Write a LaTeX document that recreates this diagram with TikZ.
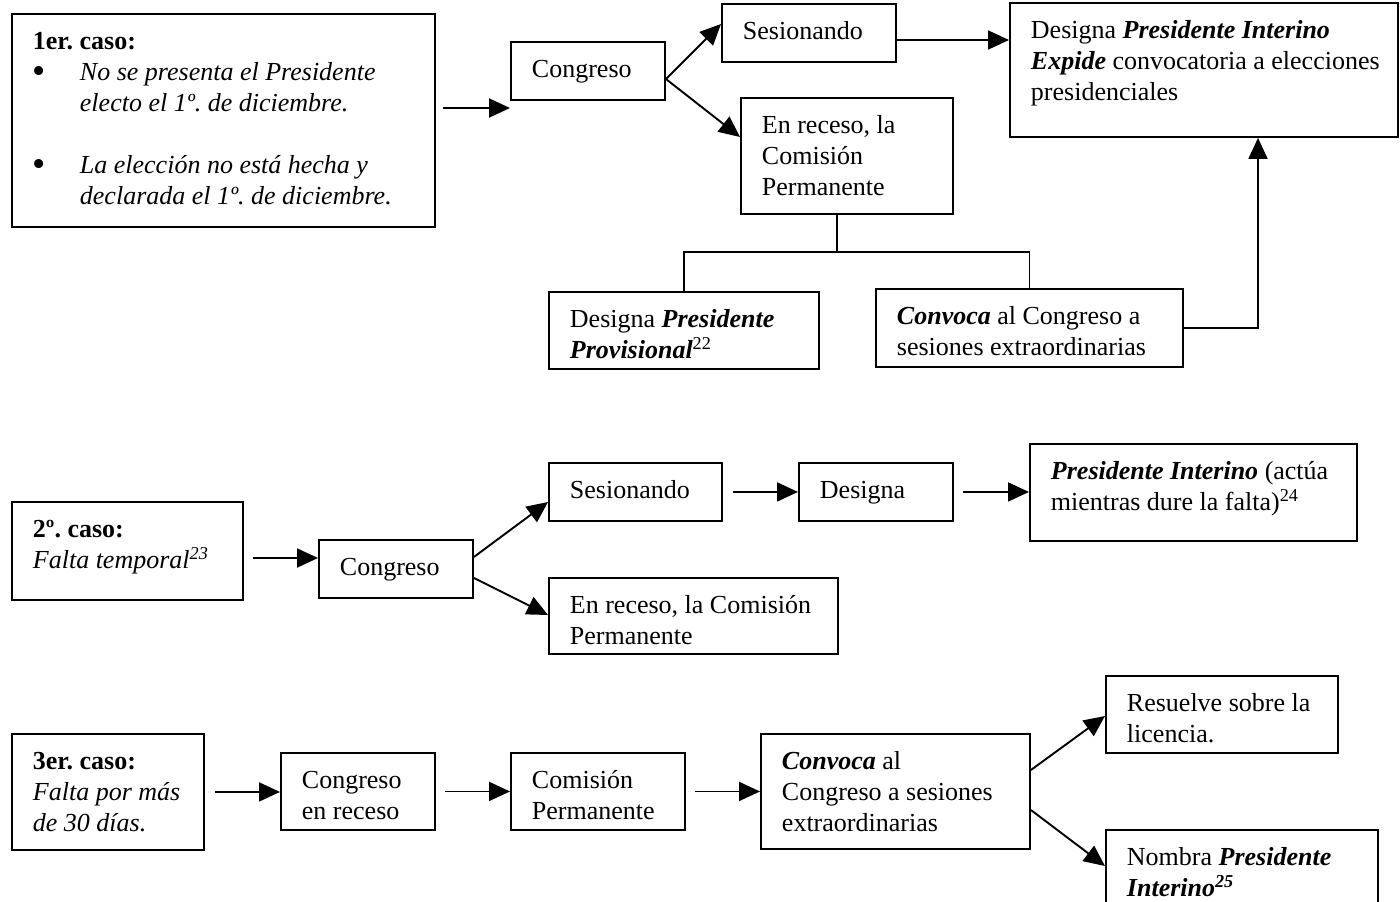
\documentclass[tikz,border=0pt]{standalone}
\usepackage{fontspec}
\setmainfont{Liberation Serif}
\usetikzlibrary{arrows.meta,calc}
\newcommand{\boxtext}[3]{\begin{minipage}[t][#2][t]{#1}\leftskip=21pt\relax\rule{0pt}{36pt}#3\end{minipage}}
\newcommand{\bi}[1]{\textbf{\textit{#1}}}
\newcommand{\bul}{\makebox[47pt][l]{\raisebox{-2.5pt}{\scalebox{1.45}{\textbullet}}}}
\begin{document}
\begin{tikzpicture}[x=1pt,y=-1pt,
  bx/.style={draw, line width=1.9pt, inner sep=0pt, anchor=north west},
  arr/.style={line width=1.9pt, -{Triangle[length=21pt,width=19pt]}},
  ln/.style={line width=1.9pt},
  every node/.style={font=\fontsize{26}{31}\selectfont\frenchspacing}]
\useasboundingbox (0,0) rectangle (1400,902);
\fill[white] (0,0) rectangle (1400,902);
\clip (0,0) rectangle (1400,902);

% ---------- case 1 ----------
\node[bx] (c1) at (11,13) {\boxtext{423pt}{213pt}{\textbf{1er. caso:}\\
\bul\textit{No se presenta el Presidente}\\
\hspace*{47pt}\textit{electo el 1º. de diciembre.}\\
\mbox{}\\
\bul\textit{La elección no está hecha y}\\
\hspace*{47pt}\textit{declarada el 1º. de diciembre.}}};
\node[bx] (cong1) at (510,41) {\boxtext{154pt}{58pt}{Congreso}};
\node[bx] (ses1) at (721,3) {\boxtext{174pt}{58pt}{Sesionando}};
\node[bx] (rec1) at (740,97) {\boxtext{212pt}{116pt}{En receso, la\\Comisión\\Permanente}};
\node[bx] (dpi) at (1009,2) {\boxtext{388pt}{134pt}{Designa \bi{Presidente Interino}\\\bi{Expide} convocatoria a elecciones\\presidenciales}};
\node[bx] (dprov) at (548,291) {\boxtext{270pt}{77pt}{Designa \bi{Presidente}\\\bi{Provisional}\textsuperscript{22}}};
\node[bx] (conv1) at (875,288) {\boxtext{307pt}{78pt}{\bi{Convoca} al Congreso a\\sesiones extraordinarias}};

\coordinate (a1s) at ($(c1.north east)+(7,95)$);
\draw[arr] (a1s) -- (a1s -| cong1.west);
\coordinate (k1) at ($(cong1.north east)+(0,38)$);
\draw[arr] (k1) -- ($(ses1.north west)+(0,21)$);
\draw[arr] (k1) -- ($(rec1.north west)+(0,40)$);
\coordinate (s1o) at ($(ses1.north east)+(0,37)$);
\draw[arr] (s1o) -- (s1o -| dpi.west);
\coordinate (j1) at ($(rec1.south)+(-10,37)$);
\draw[ln] (j1 |- rec1.south) -- (j1);
\draw[ln] (dprov.north) |- (j1) -| (conv1.north);
\draw[arr] (conv1.east) -| ($(dpi.south west)+(249,0)$);

% ---------- case 2 ----------
\node[bx] (c2) at (11,501) {\boxtext{231pt}{98pt}{\textbf{2º. caso:}\\\textit{Falta temporal\textsuperscript{23}}}};
\node[bx] (cong2) at (318,539) {\boxtext{154pt}{58pt}{Congreso}};
\node[bx] (ses2) at (548,462) {\boxtext{173pt}{58pt}{Sesionando}};
\node[bx] (des2) at (798,462) {\boxtext{154pt}{58pt}{Designa}};
\node[bx] (pi2) at (1029,443) {\boxtext{327pt}{97pt}{\bi{Presidente Interino} (actúa\\mientras dure la falta)\textsuperscript{24}}};
\node[bx] (rec2) at (548,577) {\boxtext{289pt}{76pt}{En receso, la Comisión\\Permanente}};

\coordinate (a2s) at ($(c2.north east)+(9,57)$);
\draw[arr] (a2s) -- (a2s -| cong2.west);
\draw[arr] ($(cong2.north east)+(0,18)$) -- ($(ses2.north west)+(0,40)$);
\draw[arr] ($(cong2.north east)+(0,39)$) -- ($(rec2.north west)+(0,38)$);
\coordinate (s2o) at ($(ses2.east)+(10,0)$);
\draw[arr] (s2o) -- (s2o -| des2.west);
\coordinate (d2o) at ($(des2.east)+(9,0)$);
\draw[arr] (d2o) -- (d2o -| pi2.west);

% ---------- case 3 ----------
\node[bx] (c3) at (11,733) {\boxtext{192pt}{116pt}{\textbf{3er. caso:}\\\textit{Falta por más}\\\textit{de 30 días.}}};
\node[bx] (cong3) at (280,752) {\boxtext{154pt}{77pt}{Congreso\\en receso}};
\node[bx] (com3) at (510,752) {\boxtext{174pt}{77pt}{Comisión\\Permanente}};
\node[bx] (conv3) at (760,733) {\boxtext{269pt}{115pt}{\bi{Convoca} al\\Congreso a sesiones\\extraordinarias}};
\node[bx] (res3) at (1105,675) {\boxtext{232pt}{77pt}{Resuelve sobre la\\licencia.}};
\node[bx] (nom3) at (1105,829) {\boxtext{272pt}{90pt}{Nombra \bi{Presidente}\\\bi{Interino}\textsuperscript{\bi{25}}}};

\coordinate (a3s) at ($(c3.east)+(10,0)$);
\draw[arr] (a3s) -- (a3s -| cong3.west);
\coordinate (a3b) at ($(cong3.east)+(9,0)$);
\draw[arr] (a3b) -- (a3b -| com3.west);
\coordinate (a3c) at ($(com3.east)+(9,0)$);
\draw[arr] (a3c) -- (a3c -| conv3.west);
\draw[arr] ($(conv3.north east)+(0,37)$) -- ($(res3.north west)+(0,41)$);
\draw[arr] ($(conv3.north east)+(0,77)$) -- ($(nom3.north west)+(0,37)$);
\end{tikzpicture}
\end{document}
